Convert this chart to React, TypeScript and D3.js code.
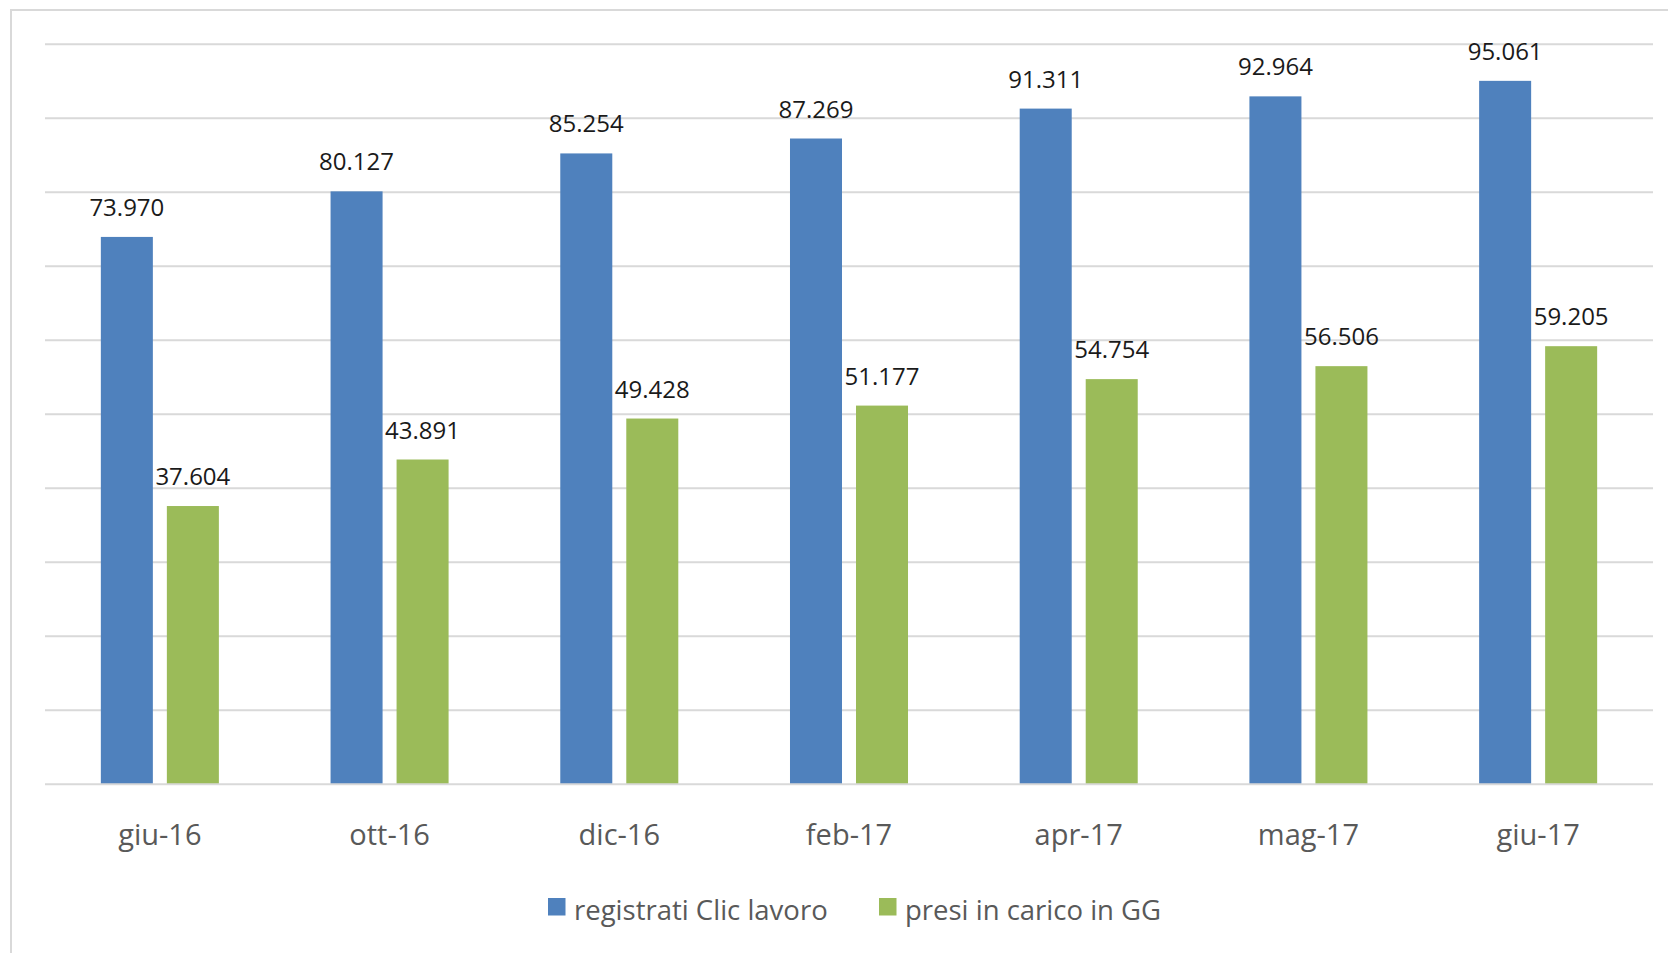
import React, { useEffect, useRef } from "react";
import * as d3 from "d3";

// periods on the x axis
const categories = ["giu-16", "ott-16", "dic-16", "feb-17", "apr-17", "mag-17", "giu-17"];

// series
const seriesNames = ["registrati Clic lavoro", "presi in carico in GG"];
const registrati = [73970, 80127, 85254, 87269, 91311, 92964, 95061];
const presiInCarico = [37604, 43891, 49428, 51177, 54754, 56506, 59205];
const seriesColors = ["#4f81bd", "#9bbb59"];

const App: React.FC = () => {
  const svgRef = useRef<SVGSVGElement | null>(null);

  useEffect(() => {
    if (!svgRef.current) return;

    const width = 1668;
    const height = 953;
    const plotLeft = 45;
    const plotRight = 1653;
    const plotTop = 44.3;
    const plotBottom = 784.3;
    const font = "'Open Sans', 'DejaVu Sans', sans-serif";

    const svg = d3
      .select(svgRef.current)
      .attr("viewBox", [0, 0, width, height])
      .attr("width", width)
      .attr("height", height);

    svg.selectAll("*").remove();

    // outer chart frame (cut off at right and bottom)
    svg
      .append("rect")
      .attr("x", 11)
      .attr("y", 10)
      .attr("width", width + 10)
      .attr("height", height + 10)
      .attr("fill", "#ffffff")
      .attr("stroke", "#d9d9d9")
      .attr("stroke-width", 2);

    // Scales
    const x0 = d3.scaleBand<string>().domain(categories).range([plotLeft, plotRight]);
    const x1 = d3
      .scaleBand<string>()
      .domain(seriesNames)
      .range([0, x0.bandwidth()])
      .paddingInner(0.212)
      .paddingOuter(0.846);
    const y = d3.scaleLinear().domain([0, 100000]).range([plotBottom, plotTop]);

    // Gridlines
    const ticks = y.ticks(10);
    svg
      .append("g")
      .selectAll("line")
      .data(ticks.filter((t) => t > 0))
      .join("line")
      .attr("x1", plotLeft)
      .attr("x2", plotRight)
      .attr("y1", (d) => y(d))
      .attr("y2", (d) => y(d))
      .attr("stroke", "#d9d9d9")
      .attr("stroke-width", 2);

    // Bars
    const rows = categories.map((c, i) => ({
      cat: c,
      values: [registrati[i], presiInCarico[i]],
    }));

    const groups = svg
      .append("g")
      .selectAll("g")
      .data(rows)
      .join("g")
      .attr("transform", (d) => `translate(${x0(d.cat)},0)`);

    groups
      .selectAll("rect")
      .data((d) => d.values.map((v, j) => ({ name: seriesNames[j], value: v, j })))
      .join("rect")
      .attr("x", (d) => x1(d.name)!)
      .attr("y", (d) => y(d.value))
      .attr("width", x1.bandwidth())
      .attr("height", (d) => y(0) - y(d.value))
      .attr("fill", (d) => seriesColors[d.j]);

    // Data labels
    const fmt = (v: number) => d3.format(",")(v).replace(/,/g, ".");
    groups
      .selectAll("text")
      .data((d) => d.values.map((v, j) => ({ name: seriesNames[j], value: v })))
      .join("text")
      .attr("x", (d) => x1(d.name)! + x1.bandwidth() / 2)
      .attr("y", (d) => y(d.value) - 21)
      .attr("text-anchor", "middle")
      .attr("font-family", font)
      .attr("font-size", 24)
      .attr("fill", "#1a1a1a")
      .text((d) => fmt(d.value));

    // Baseline
    svg
      .append("line")
      .attr("x1", plotLeft)
      .attr("x2", plotRight)
      .attr("y1", y(0))
      .attr("y2", y(0))
      .attr("stroke", "#d9d9d9")
      .attr("stroke-width", 2);

    // Category axis
    const xAxis = svg
      .append("g")
      .attr("transform", `translate(0,${plotBottom})`)
      .call(d3.axisBottom(x0).tickSize(0).tickPadding(61));
    xAxis.select(".domain").remove();
    xAxis
      .selectAll("text")
      .attr("font-family", font)
      .attr("font-size", 29)
      .attr("fill", "#595959")
      .attr("dy", 0);

    // Legend
    const legendX = [548, 879];
    const legend = svg
      .append("g")
      .selectAll("g")
      .data(seriesNames)
      .join("g")
      .attr("transform", (_, i) => `translate(${legendX[i]},898)`);
    legend
      .append("rect")
      .attr("width", 17.5)
      .attr("height", 17.5)
      .attr("fill", (_, i) => seriesColors[i]);
    legend
      .append("text")
      .attr("x", 26)
      .attr("y", 22)
      .attr("font-family", font)
      .attr("font-size", 27.5)
      .attr("fill", "#595959")
      .text((d) => d);

    return () => {
      svg.selectAll("*").remove();
    };
  }, []);

  return <svg ref={svgRef} style={{ position: "absolute", left: 0, top: 0, display: "block" }}></svg>;
};

export default App;
